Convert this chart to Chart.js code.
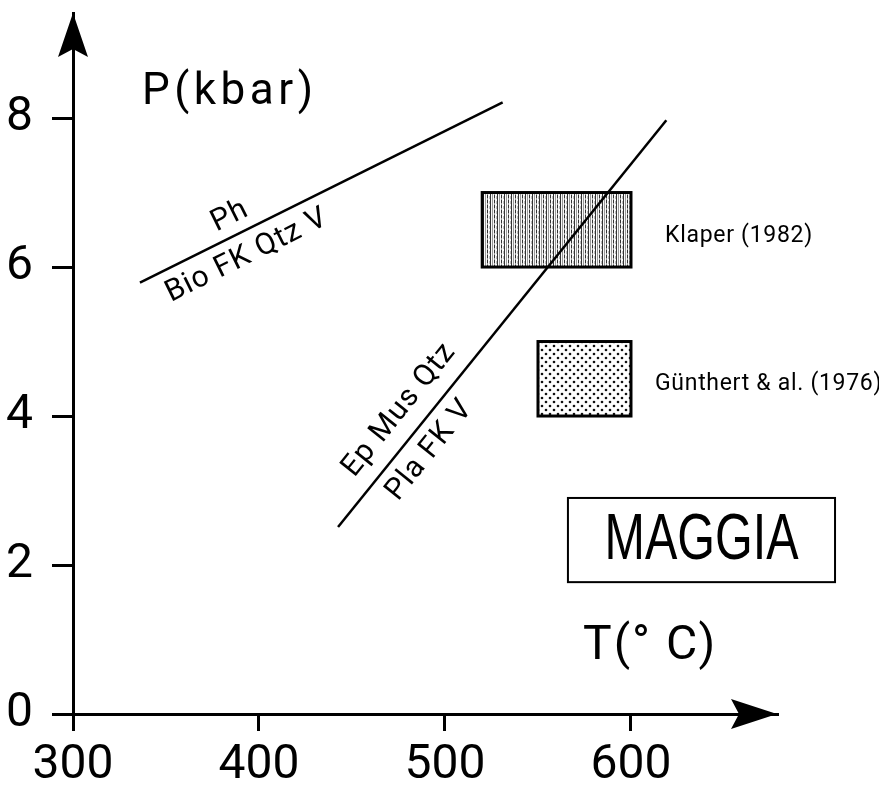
<!DOCTYPE html>
<html>
<head>
<meta charset="utf-8">
<title>Maggia P-T</title>
<script src="https://cdn.jsdelivr.net/npm/chart.js@4.4.0/dist/chart.umd.min.js"></script>
<style>
  html, body { margin: 0; padding: 0; background: #fff; }
  canvas { display: block; }
</style>
</head>
<body>
<canvas id="chart" width="879" height="785"></canvas>
<script>
// Axis ticks
const tempTicks = [300, 400, 500, 600];
const pressureTicks = [0, 2, 4, 6, 8];

// Reaction curves (T in degC, P in kbar)
const phLineT = [336, 531];
const phLineP = [5.79, 8.21];
const epLineT = [442.5, 619];
const epLineP = [2.51, 7.97];

// P-T estimates: [Tmin, Tmax], [Pmin, Pmax]
const klaperT = [520, 600];
const klaperP = [6, 7];
const guenthertT = [550, 600];
const guenthertP = [4, 5];

const toPoints = (ts, ps) => ts.map((t, i) => ({ x: t, y: ps[i] }));

// Fill patterns for the two boxes
function stripePattern(ctx) {
    const c = document.createElement('canvas');
    c.width = 7; c.height = 5;
    const g = c.getContext('2d');
    g.fillStyle = '#fafafa'; g.fillRect(0, 0, 7, 5);
    g.fillStyle = '#333'; g.fillRect(0, 0, 1, 5); g.fillRect(4, 0, 1, 3);
    g.fillStyle = '#999'; g.fillRect(2, 0, 1, 5); g.fillRect(4, 3, 1, 2);
    g.fillStyle = '#bbb'; g.fillRect(6, 1, 1, 3);
    return ctx.createPattern(c, 'repeat');
}

function dotPattern(ctx) {
    const c = document.createElement('canvas');
    c.width = 8; c.height = 8;
    const g = c.getContext('2d');
    g.fillStyle = '#fff'; g.fillRect(0, 0, 8, 8);
    g.fillStyle = '#111';
    [[2, 2], [6, 6]].forEach(([x, y]) => {
        g.beginPath(); g.arc(x, y, 1.3, 0, Math.PI * 2); g.fill();
    });
    return ctx.createPattern(c, 'repeat');
}

const boxes = [
    { t: klaperT, p: klaperP, fill: stripePattern },
    { t: guenthertT, p: guenthertP, fill: dotPattern }
];

// Texts anchored in data units
const lineLabels = [
    { text: 'Ph', t: 384.4, p: 6.68, line: [phLineT, phLineP] },
    { text: 'Bio FK Qtz V', t: 393.5, p: 6.15, line: [phLineT, phLineP] },
    { text: 'Ep Mus Qtz', t: 475.5, p: 4.08, line: [epLineT, epLineP] },
    { text: 'Pla FK V', t: 491.9, p: 3.54, line: [epLineT, epLineP] }
];

const FONT = 'Roboto, "Liberation Sans", sans-serif';

const paperPlugin = {
    id: 'paper',
    beforeDraw(chart) {
        const ctx = chart.ctx;
        ctx.save();
        ctx.fillStyle = '#fff';
        ctx.fillRect(0, 0, chart.width, chart.height);
        ctx.restore();
    },
    beforeDatasetsDraw(chart) {
        const { ctx, scales: { x, y } } = chart;
        ctx.save();
        boxes.forEach(b => {
            const x0 = x.getPixelForValue(b.t[0]), x1 = x.getPixelForValue(b.t[1]);
            const y0 = y.getPixelForValue(b.p[1]), y1 = y.getPixelForValue(b.p[0]);
            ctx.fillStyle = b.fill(ctx);
            ctx.fillRect(x0, y0, x1 - x0, y1 - y0);
            ctx.lineWidth = 3;
            ctx.strokeStyle = '#000';
            ctx.strokeRect(x0, y0, x1 - x0, y1 - y0);
        });
        ctx.restore();
    },
    afterDraw(chart) {
        const { ctx, chartArea, scales: { x, y } } = chart;
        ctx.save();
        ctx.fillStyle = '#000';
        ctx.strokeStyle = '#000';

        // arrow heads
        const ax = chartArea.left, ay = chartArea.bottom;
        ctx.beginPath();
        ctx.moveTo(ax, chartArea.top);
        ctx.lineTo(ax + 15, chartArea.top + 44);
        ctx.lineTo(ax, chartArea.top + 36);
        ctx.lineTo(ax - 15, chartArea.top + 44);
        ctx.closePath();
        ctx.fill();
        ctx.beginPath();
        ctx.moveTo(chartArea.right, ay);
        ctx.lineTo(chartArea.right - 46, ay - 15);
        ctx.lineTo(chartArea.right - 38, ay);
        ctx.lineTo(chartArea.right - 46, ay + 15);
        ctx.closePath();
        ctx.fill();

        // labels along reaction curves
        ctx.font = '400 30px ' + FONT;
        ctx.letterSpacing = '1px';
        ctx.textAlign = 'center';
        ctx.textBaseline = 'middle';
        lineLabels.forEach(l => {
            const [ts, ps] = l.line;
            const ang = Math.atan2(
                y.getPixelForValue(ps[1]) - y.getPixelForValue(ps[0]),
                x.getPixelForValue(ts[1]) - x.getPixelForValue(ts[0]));
            ctx.save();
            ctx.translate(x.getPixelForValue(l.t), y.getPixelForValue(l.p));
            ctx.rotate(ang);
            ctx.fillText(l.text, 0, 0);
            ctx.restore();
        });

        // axis titles
        ctx.textAlign = 'left';
        ctx.textBaseline = 'alphabetic';
        ctx.font = '400 44px ' + FONT;
        ctx.letterSpacing = '4.5px';
        ctx.fillText('P(kbar)', x.getPixelForValue(337.1), y.getPixelForValue(8.19));
        ctx.font = '400 48px ' + FONT;
        ctx.letterSpacing = '2px';
        ctx.fillText('T(\u00b0 C)', x.getPixelForValue(574.2), y.getPixelForValue(0.74));

        // references
        ctx.font = '400 23px ' + FONT;
        ctx.letterSpacing = '0.7px';
        ctx.fillText('Klaper (1982)', x.getPixelForValue(618.3), y.getPixelForValue(6.34));
        ctx.fillText('G\u00fcnthert & al. (1976)', x.getPixelForValue(612.9), y.getPixelForValue(4.35));
        ctx.letterSpacing = '0px';

        // MAGGIA box
        const bx0 = x.getPixelForValue(566.1), bx1 = x.getPixelForValue(709.7);
        const by0 = y.getPixelForValue(2.90), by1 = y.getPixelForValue(1.77);
        ctx.lineWidth = 2;
        ctx.strokeRect(bx0, by0, bx1 - bx0, by1 - by0);
        ctx.font = '400 64px "Liberation Sans", Arial, sans-serif';
        ctx.textAlign = 'center';
        ctx.textBaseline = 'middle';
        const w = ctx.measureText('MAGGIA').width;
        ctx.translate((bx0 + bx1) / 2, (by0 + by1) / 2 + 1);
        ctx.scale(194 / w, 1);
        ctx.fillText('MAGGIA', 0, 0);
        ctx.restore();
    }
};

const lineStyle = {
    showLine: true,
    borderColor: '#000',
    borderWidth: 2.5,
    pointRadius: 0,
    fill: false
};

new Chart(document.getElementById('chart'), {
    type: 'scatter',
    data: {
        datasets: [
            { ...lineStyle, label: 'Ph = Bio FK Qtz V', data: toPoints(phLineT, phLineP) },
            { ...lineStyle, label: 'Ep Mus Qtz = Pla FK V', data: toPoints(epLineT, epLineP) }
        ]
    },
    options: {
        responsive: false,
        animation: false,
        layout: { padding: { left: 0, top: 13, right: 102, bottom: 0 } },
        plugins: { legend: { display: false }, tooltip: { enabled: false } },
        scales: {
            x: {
                type: 'linear',
                min: 300,
                max: 678.5,
                afterBuildTicks: s => { s.ticks = tempTicks.map(v => ({ value: v })); },
                afterFit: s => { s.height = 71; s.paddingLeft = 0; s.paddingRight = 0; },
                border: { display: true, color: '#000', width: 3 },
                grid: { drawOnChartArea: false, drawTicks: true, tickLength: 17, lineWidth: 3, color: '#000' },
                ticks: { color: '#000', padding: 6, font: { family: FONT, size: 48, weight: 400 } }
            },
            y: {
                type: 'linear',
                min: 0,
                max: 9.41,
                afterBuildTicks: s => { s.ticks = pressureTicks.map(v => ({ value: v })); },
                afterFit: s => { s.width = 73; s.paddingTop = 0; s.paddingBottom = 0; },
                border: { display: true, color: '#000', width: 3 },
                grid: { drawOnChartArea: false, drawTicks: true, tickLength: 21, lineWidth: 3, color: '#000' },
                ticks: { color: '#000', padding: 19, font: { family: FONT, size: 48, weight: 400 } }
            }
        }
    },
    plugins: [paperPlugin]
});
</script>
</body>
</html>
